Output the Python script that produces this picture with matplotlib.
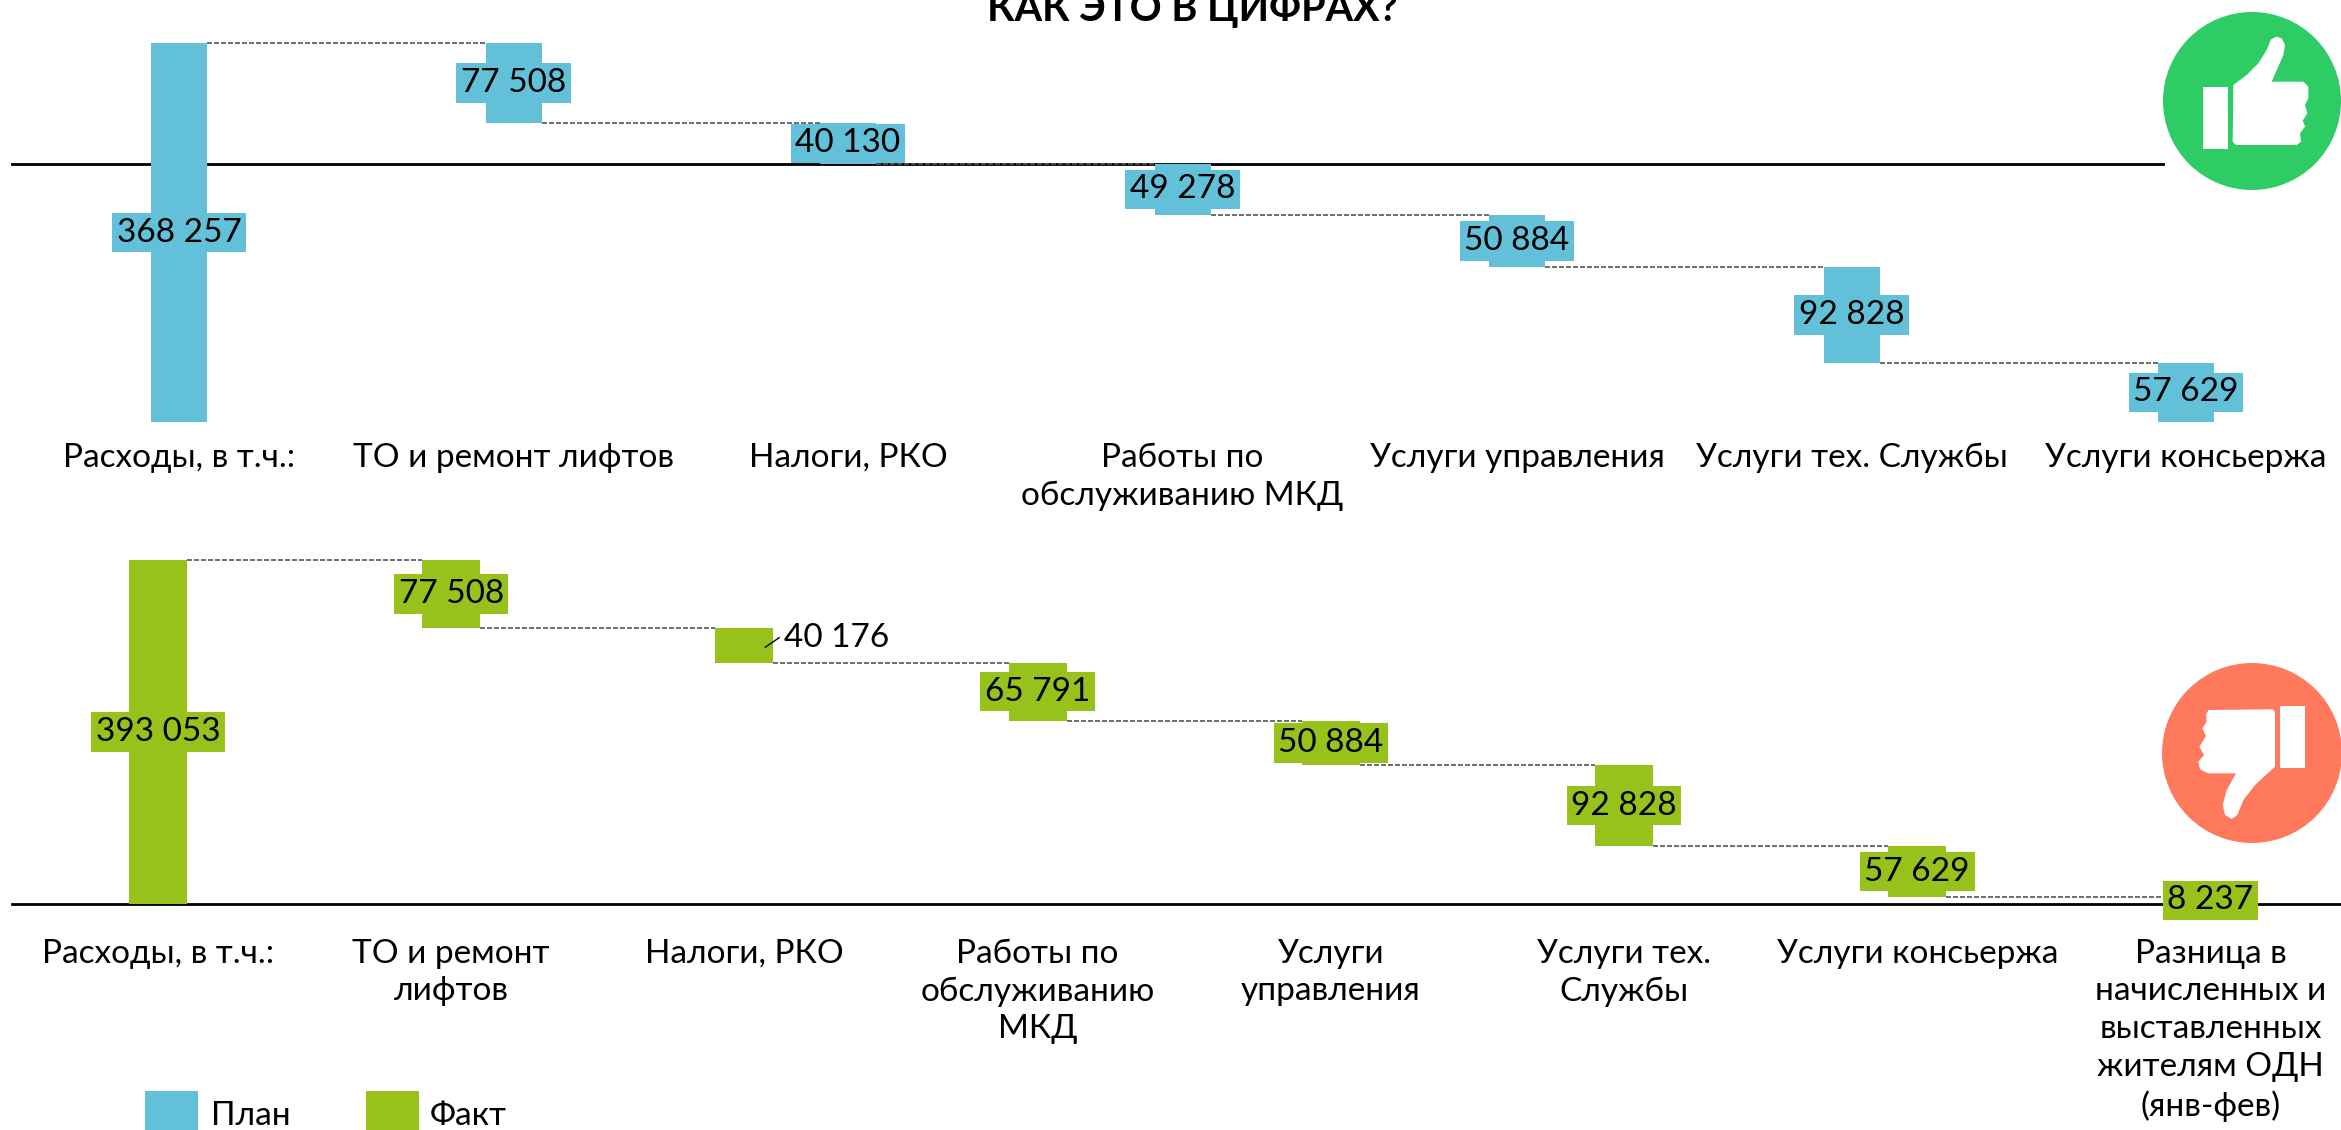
import matplotlib
matplotlib.use("Agg")
import matplotlib.pyplot as plt
from matplotlib.patches import Circle, Polygon, Rectangle
import numpy as np

plt.rcParams['font.family'] = ['Lato', 'Open Sans', 'DejaVu Sans']

# =============================
# Data
# =============================
plan_labels = ["Расходы, в т.ч.:", "ТО и ремонт лифтов", "Налоги, РКО",
               "Работы по\nобслуживанию МКД", "Услуги управления",
               "Услуги тех. Службы", "Услуги консьержа"]
plan_total = 368257
plan_parts = [77508, 40130, 49278, 50884, 92828, 57629]

fact_labels = ["Расходы, в т.ч.:", "ТО и ремонт\nлифтов", "Налоги, РКО",
               "Работы по\nобслуживанию\nМКД", "Услуги\nуправления",
               "Услуги тех.\nСлужбы", "Услуги консьержа",
               "Разница в\nначисленных и\nвыставленных\nжителям ОДН\n(янв-фев)"]
fact_total = 393053
fact_parts = [77508, 40176, 65791, 50884, 92828, 57629, 8237]

BLUE = "#62C0D9"
GREEN = "#97C21C"
W, H = 2341, 1130
FS = 24


def fmt(v):
    return f"{v:,}".replace(",", " ")


def waterfall(top_px, bottom_px, x0_px, step_px, bar_px, total, parts, labels, color, pad, outside=None):
    ax = fig.add_axes([0, 1 - bottom_px / H, 1, (bottom_px - top_px) / H])
    ax.patch.set_visible(False)
    for s in ax.spines.values():
        s.set_visible(False)
    ax.set_xlim(-x0_px / step_px, (W - x0_px) / step_px)
    ax.set_ylim(0, total)
    ax.set_yticks([])
    x = np.arange(len(parts) + 1)
    ax.set_xticks(x)
    ax.set_xticklabels(labels, fontsize=FS, linespacing=1.32)
    ax.tick_params(axis='x', length=0, pad=pad)

    width = bar_px / step_px
    tops = total - np.concatenate(([0], np.cumsum(parts)[:-1]))
    values = np.array(parts)
    heights = np.concatenate(([total], values))
    bottoms = np.concatenate(([0], tops - values))
    ax.bar(x, heights, width=width, bottom=bottoms, color=color, zorder=3)

    # пунктир между столбиками
    for i in range(len(parts)):
        y = tops[i]
        ax.plot([x[i] + width / 2, x[i + 1] - width / 2], [y, y], color="#555555",
                lw=1.2, ls=(0, (3, 1.2)), zorder=2, clip_on=False)

    for i, v in enumerate(heights):
        yc = bottoms[i] + v / 2
        if outside is not None and i == outside:
            ax.plot([x[i] + width * 0.36, x[i] + width * 0.6], [yc - v * 0.05, yc + v * 0.22],
                    color="black", lw=1, zorder=5)
            ax.text(x[i] + width * 0.68, yc + v * 0.2, fmt(v), fontsize=FS, ha='left', va='center', zorder=5)
        else:
            ax.text(x[i], yc, fmt(v), fontsize=FS, ha='center', va='center', zorder=4,
                    bbox=dict(boxstyle='square,pad=0.14', fc=color, ec='none'))
    return ax


fig = plt.figure(figsize=(W / 100, H / 100), dpi=100, facecolor="white")

# Слой в пикселях: линии, заголовок, легенда, значки
bg = fig.add_axes([0, 0, 1, 1], zorder=-1)
bg.set_xlim(0, W)
bg.set_ylim(H, 0)
bg.axis('off')

bg.plot([12, 2163], [164, 164], color="black", lw=2)
bg.plot([12, W], [904, 904], color="black", lw=2)
bg.text(1192, 21, "КАК ЭТО В ЦИФРАХ?", fontsize=28.5, fontweight='bold', ha='center', va='baseline')

bg.add_patch(Rectangle((145, 1091), 53, 39, fc=BLUE, ec='none'))
bg.add_patch(Rectangle((366, 1091), 53, 39, fc=GREEN, ec='none'))
bg.text(211, 1116, "План", fontsize=FS, va='center')
bg.text(430, 1116, "Факт", fontsize=FS, va='center')


def icon_pts(pts, x0, y0):
    return [(x0 + px / 3, y0 + py / 3) for px, py in pts]


# Палец вверх
bg.add_patch(Circle((2252, 101), 89, fc="#2ECC64", ec='none'))
bg.add_patch(Rectangle((2203, 87), 25, 62, fc="white", ec='none'))
thumb_up = [(1000, 255), (998, 425), (1008, 435), (1190, 435), (1203, 425), (1200, 400), (1215, 380),
            (1208, 362), (1222, 340), (1215, 315), (1225, 295), (1225, 260), (1210, 245), (1115, 245),
            (1150, 165), (1155, 135), (1145, 115), (1130, 110), (1113, 118), (1100, 150), (1075, 190),
            (1040, 225)]
bg.add_patch(Polygon(icon_pts(thumb_up, 1900, 0), closed=True, fc="white", ec="none"))

# Палец вниз
bg.add_patch(Circle((2252, 753), 90, fc="#FF7A5C", ec='none'))
bg.add_patch(Rectangle((2280, 706), 25, 62, fc="white", ec='none'))
thumb_down = [(1125, 215), (1118, 208), (925, 210), (918, 225), (920, 245), (907, 265), (918, 288),
              (898, 320), (912, 345), (895, 365), (900, 388), (925, 400), (1008, 400), (980, 450),
              (968, 495), (975, 525), (995, 537), (1012, 525), (1030, 480), (1065, 435), (1125, 380)]
bg.add_patch(Polygon(icon_pts(thumb_down, 1900, 640), closed=True, fc="white", ec="none"))

waterfall(43, 422, 179, 334.5, 56, plan_total, plan_parts, plan_labels, BLUE, pad=15)
waterfall(560, 904, 158, 293.2, 58, fact_total, fact_parts, fact_labels, GREEN, pad=25, outside=2)

fig.savefig("out.png", dpi=100)
